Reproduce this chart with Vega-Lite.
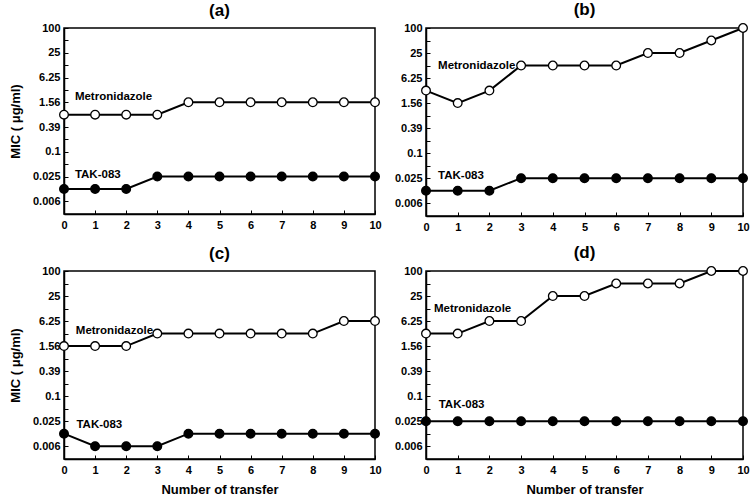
{
  "$schema": "https://vega.github.io/schema/vega-lite/v6.json",
  "background": "white",
  "padding": {"left": 8, "top": 0, "right": 6, "bottom": 2},
  "config": {
    "font": "Liberation Sans",
    "view": {"stroke": "black", "strokeWidth": 1.5},
    "title": {"fontSize": 17, "fontWeight": "bold", "font": "Liberation Sans", "offset": 2, "color": "black"},
    "axis": {
      "labelFont": "Liberation Sans", "labelFontWeight": "bold", "labelFontSize": 11, "labelColor": "black",
      "titleFont": "Liberation Sans", "titleFontWeight": "bold", "titleFontSize": 13, "titleColor": "black",
      "domainColor": "black", "domainWidth": 1.5, "tickColor": "black", "tickWidth": 1, "tickSize": -4,
      "grid": false, "labelPadding": 8, "labelOverlap": false, "labelFlush": false
    },
    "axisX": {"labelPadding": 9, "labelOverlap": false, "tickCount": 30},
    "text": {"font": "Liberation Sans", "fontSize": 11.5, "fontWeight": "bold", "align": "left", "baseline": "middle", "color": "black"},
    "concat": {"spacing": 10}
  },
  "datasets": {
    "mic": [
      {"panel": "a", "drug": "Metronidazole", "transfer": 0, "mic": 0.78125},
      {"panel": "a", "drug": "Metronidazole", "transfer": 1, "mic": 0.78125},
      {"panel": "a", "drug": "Metronidazole", "transfer": 2, "mic": 0.78125},
      {"panel": "a", "drug": "Metronidazole", "transfer": 3, "mic": 0.78125},
      {"panel": "a", "drug": "Metronidazole", "transfer": 4, "mic": 1.5625},
      {"panel": "a", "drug": "Metronidazole", "transfer": 5, "mic": 1.5625},
      {"panel": "a", "drug": "Metronidazole", "transfer": 6, "mic": 1.5625},
      {"panel": "a", "drug": "Metronidazole", "transfer": 7, "mic": 1.5625},
      {"panel": "a", "drug": "Metronidazole", "transfer": 8, "mic": 1.5625},
      {"panel": "a", "drug": "Metronidazole", "transfer": 9, "mic": 1.5625},
      {"panel": "a", "drug": "Metronidazole", "transfer": 10, "mic": 1.5625},
      {"panel": "a", "drug": "TAK-083", "transfer": 0, "mic": 0.01220703125},
      {"panel": "a", "drug": "TAK-083", "transfer": 1, "mic": 0.01220703125},
      {"panel": "a", "drug": "TAK-083", "transfer": 2, "mic": 0.01220703125},
      {"panel": "a", "drug": "TAK-083", "transfer": 3, "mic": 0.0244140625},
      {"panel": "a", "drug": "TAK-083", "transfer": 4, "mic": 0.0244140625},
      {"panel": "a", "drug": "TAK-083", "transfer": 5, "mic": 0.0244140625},
      {"panel": "a", "drug": "TAK-083", "transfer": 6, "mic": 0.0244140625},
      {"panel": "a", "drug": "TAK-083", "transfer": 7, "mic": 0.0244140625},
      {"panel": "a", "drug": "TAK-083", "transfer": 8, "mic": 0.0244140625},
      {"panel": "a", "drug": "TAK-083", "transfer": 9, "mic": 0.0244140625},
      {"panel": "a", "drug": "TAK-083", "transfer": 10, "mic": 0.0244140625},
      {"panel": "b", "drug": "Metronidazole", "transfer": 0, "mic": 3.125},
      {"panel": "b", "drug": "Metronidazole", "transfer": 1, "mic": 1.5625},
      {"panel": "b", "drug": "Metronidazole", "transfer": 2, "mic": 3.125},
      {"panel": "b", "drug": "Metronidazole", "transfer": 3, "mic": 12.5},
      {"panel": "b", "drug": "Metronidazole", "transfer": 4, "mic": 12.5},
      {"panel": "b", "drug": "Metronidazole", "transfer": 5, "mic": 12.5},
      {"panel": "b", "drug": "Metronidazole", "transfer": 6, "mic": 12.5},
      {"panel": "b", "drug": "Metronidazole", "transfer": 7, "mic": 25},
      {"panel": "b", "drug": "Metronidazole", "transfer": 8, "mic": 25},
      {"panel": "b", "drug": "Metronidazole", "transfer": 9, "mic": 50},
      {"panel": "b", "drug": "Metronidazole", "transfer": 10, "mic": 100},
      {"panel": "b", "drug": "TAK-083", "transfer": 0, "mic": 0.01220703125},
      {"panel": "b", "drug": "TAK-083", "transfer": 1, "mic": 0.01220703125},
      {"panel": "b", "drug": "TAK-083", "transfer": 2, "mic": 0.01220703125},
      {"panel": "b", "drug": "TAK-083", "transfer": 3, "mic": 0.0244140625},
      {"panel": "b", "drug": "TAK-083", "transfer": 4, "mic": 0.0244140625},
      {"panel": "b", "drug": "TAK-083", "transfer": 5, "mic": 0.0244140625},
      {"panel": "b", "drug": "TAK-083", "transfer": 6, "mic": 0.0244140625},
      {"panel": "b", "drug": "TAK-083", "transfer": 7, "mic": 0.0244140625},
      {"panel": "b", "drug": "TAK-083", "transfer": 8, "mic": 0.0244140625},
      {"panel": "b", "drug": "TAK-083", "transfer": 9, "mic": 0.0244140625},
      {"panel": "b", "drug": "TAK-083", "transfer": 10, "mic": 0.0244140625},
      {"panel": "c", "drug": "Metronidazole", "transfer": 0, "mic": 1.5625},
      {"panel": "c", "drug": "Metronidazole", "transfer": 1, "mic": 1.5625},
      {"panel": "c", "drug": "Metronidazole", "transfer": 2, "mic": 1.5625},
      {"panel": "c", "drug": "Metronidazole", "transfer": 3, "mic": 3.125},
      {"panel": "c", "drug": "Metronidazole", "transfer": 4, "mic": 3.125},
      {"panel": "c", "drug": "Metronidazole", "transfer": 5, "mic": 3.125},
      {"panel": "c", "drug": "Metronidazole", "transfer": 6, "mic": 3.125},
      {"panel": "c", "drug": "Metronidazole", "transfer": 7, "mic": 3.125},
      {"panel": "c", "drug": "Metronidazole", "transfer": 8, "mic": 3.125},
      {"panel": "c", "drug": "Metronidazole", "transfer": 9, "mic": 6.25},
      {"panel": "c", "drug": "Metronidazole", "transfer": 10, "mic": 6.25},
      {"panel": "c", "drug": "TAK-083", "transfer": 0, "mic": 0.01220703125},
      {"panel": "c", "drug": "TAK-083", "transfer": 1, "mic": 0.006103515625},
      {"panel": "c", "drug": "TAK-083", "transfer": 2, "mic": 0.006103515625},
      {"panel": "c", "drug": "TAK-083", "transfer": 3, "mic": 0.006103515625},
      {"panel": "c", "drug": "TAK-083", "transfer": 4, "mic": 0.01220703125},
      {"panel": "c", "drug": "TAK-083", "transfer": 5, "mic": 0.01220703125},
      {"panel": "c", "drug": "TAK-083", "transfer": 6, "mic": 0.01220703125},
      {"panel": "c", "drug": "TAK-083", "transfer": 7, "mic": 0.01220703125},
      {"panel": "c", "drug": "TAK-083", "transfer": 8, "mic": 0.01220703125},
      {"panel": "c", "drug": "TAK-083", "transfer": 9, "mic": 0.01220703125},
      {"panel": "c", "drug": "TAK-083", "transfer": 10, "mic": 0.01220703125},
      {"panel": "d", "drug": "Metronidazole", "transfer": 0, "mic": 3.125},
      {"panel": "d", "drug": "Metronidazole", "transfer": 1, "mic": 3.125},
      {"panel": "d", "drug": "Metronidazole", "transfer": 2, "mic": 6.25},
      {"panel": "d", "drug": "Metronidazole", "transfer": 3, "mic": 6.25},
      {"panel": "d", "drug": "Metronidazole", "transfer": 4, "mic": 25},
      {"panel": "d", "drug": "Metronidazole", "transfer": 5, "mic": 25},
      {"panel": "d", "drug": "Metronidazole", "transfer": 6, "mic": 50},
      {"panel": "d", "drug": "Metronidazole", "transfer": 7, "mic": 50},
      {"panel": "d", "drug": "Metronidazole", "transfer": 8, "mic": 50},
      {"panel": "d", "drug": "Metronidazole", "transfer": 9, "mic": 100},
      {"panel": "d", "drug": "Metronidazole", "transfer": 10, "mic": 100},
      {"panel": "d", "drug": "TAK-083", "transfer": 0, "mic": 0.0244140625},
      {"panel": "d", "drug": "TAK-083", "transfer": 1, "mic": 0.0244140625},
      {"panel": "d", "drug": "TAK-083", "transfer": 2, "mic": 0.0244140625},
      {"panel": "d", "drug": "TAK-083", "transfer": 3, "mic": 0.0244140625},
      {"panel": "d", "drug": "TAK-083", "transfer": 4, "mic": 0.0244140625},
      {"panel": "d", "drug": "TAK-083", "transfer": 5, "mic": 0.0244140625},
      {"panel": "d", "drug": "TAK-083", "transfer": 6, "mic": 0.0244140625},
      {"panel": "d", "drug": "TAK-083", "transfer": 7, "mic": 0.0244140625},
      {"panel": "d", "drug": "TAK-083", "transfer": 8, "mic": 0.0244140625},
      {"panel": "d", "drug": "TAK-083", "transfer": 9, "mic": 0.0244140625},
      {"panel": "d", "drug": "TAK-083", "transfer": 10, "mic": 0.0244140625}
    ],
    "labels": [
      {"panel": "a", "drug": "Metronidazole", "lx": 0.35, "ly": 2.1},
      {"panel": "a", "drug": "TAK-083", "lx": 0.35, "ly": 0.026},
      {"panel": "b", "drug": "Metronidazole", "lx": 0.38, "ly": 12.0},
      {"panel": "b", "drug": "TAK-083", "lx": 0.38, "ly": 0.028},
      {"panel": "c", "drug": "Metronidazole", "lx": 0.38, "ly": 3.7},
      {"panel": "c", "drug": "TAK-083", "lx": 0.4, "ly": 0.02},
      {"panel": "d", "drug": "Metronidazole", "lx": 0.25, "ly": 12.5},
      {"panel": "d", "drug": "TAK-083", "lx": 0.4, "ly": 0.06}
    ]
  },
  "vconcat": [
    {
      "hconcat": [
        {
          "title": "(a)",
          "width": 311, "height": 186,
          "layer": [
            {"data": {"name": "mic"}, "transform": [{"filter": "datum.panel == 'a'"}],
             "mark": {"type": "line", "color": "black", "strokeWidth": 2},
             "encoding": {
               "x": {"field": "transfer", "type": "quantitative", "scale": {"domain": [0, 10], "nice": false, "zero": false},
                     "axis": {"values": [0,1,2,3,4,5,6,7,8,9,10], "format": "d", "tickCount": 30, "labelOverlap": false, "title": null}},
               "y": {"field": "mic", "type": "quantitative", "scale": {"type": "log", "domain": [0.003, 100], "nice": false},
                     "axis": {"values": [100,50,25,12.5,6.25,3.125,1.5625,0.78125,0.390625,0.1953125,0.09765625,0.048828125,0.0244140625,0.01220703125,0.006103515625],
                              "labelExpr": "({'100':'100','25':'25','6.25':'6.25','1.5625':'1.56','0.390625':'0.39','0.09765625':'0.1','0.0244140625':'0.025','0.006103515625':'0.006'})[datum.value] || ''",
                              "title": "MIC ( μg/ml)", "titlePadding": 10}},
               "detail": {"field": "drug"}}},
            {"data": {"name": "mic"}, "transform": [{"filter": "datum.panel == 'a'"}],
             "mark": {"type": "point", "filled": true, "size": 75, "stroke": "black", "strokeWidth": 1.3, "opacity": 1},
             "encoding": {
               "x": {"field": "transfer", "type": "quantitative"},
               "y": {"field": "mic", "type": "quantitative"},
               "fill": {"field": "drug", "type": "nominal", "scale": {"domain": ["Metronidazole", "TAK-083"], "range": ["white", "black"]}, "legend": null}}},
            {"data": {"name": "labels"}, "transform": [{"filter": "datum.panel == 'a'"}],
             "mark": {"type": "text"},
             "encoding": {
               "x": {"field": "lx", "type": "quantitative"},
               "y": {"field": "ly", "type": "quantitative"},
               "text": {"field": "drug"}}}
          ]
        },
        {
          "title": "(b)",
          "width": 317, "height": 188,
          "layer": [
            {"data": {"name": "mic"}, "transform": [{"filter": "datum.panel == 'b'"}],
             "mark": {"type": "line", "color": "black", "strokeWidth": 2},
             "encoding": {
               "x": {"field": "transfer", "type": "quantitative", "scale": {"domain": [0, 10], "nice": false, "zero": false},
                     "axis": {"values": [0,1,2,3,4,5,6,7,8,9,10], "format": "d", "tickCount": 30, "labelOverlap": false, "title": null}},
               "y": {"field": "mic", "type": "quantitative", "scale": {"type": "log", "domain": [0.003, 100], "nice": false},
                     "axis": {"values": [100,50,25,12.5,6.25,3.125,1.5625,0.78125,0.390625,0.1953125,0.09765625,0.048828125,0.0244140625,0.01220703125,0.006103515625],
                              "labelExpr": "({'100':'100','25':'25','6.25':'6.25','1.5625':'1.56','0.390625':'0.39','0.09765625':'0.1','0.0244140625':'0.025','0.006103515625':'0.006'})[datum.value] || ''",
                              "title": null}},
               "detail": {"field": "drug"}}},
            {"data": {"name": "mic"}, "transform": [{"filter": "datum.panel == 'b'"}],
             "mark": {"type": "point", "filled": true, "size": 75, "stroke": "black", "strokeWidth": 1.3, "opacity": 1},
             "encoding": {
               "x": {"field": "transfer", "type": "quantitative"},
               "y": {"field": "mic", "type": "quantitative"},
               "fill": {"field": "drug", "type": "nominal", "scale": {"domain": ["Metronidazole", "TAK-083"], "range": ["white", "black"]}, "legend": null}}},
            {"data": {"name": "labels"}, "transform": [{"filter": "datum.panel == 'b'"}],
             "mark": {"type": "text"},
             "encoding": {
               "x": {"field": "lx", "type": "quantitative"},
               "y": {"field": "ly", "type": "quantitative"},
               "text": {"field": "drug"}}}
          ]
        }
      ]
    },
    {
      "hconcat": [
        {
          "title": "(c)",
          "width": 311, "height": 188,
          "layer": [
            {"data": {"name": "mic"}, "transform": [{"filter": "datum.panel == 'c'"}],
             "mark": {"type": "line", "color": "black", "strokeWidth": 2},
             "encoding": {
               "x": {"field": "transfer", "type": "quantitative", "scale": {"domain": [0, 10], "nice": false, "zero": false},
                     "axis": {"values": [0,1,2,3,4,5,6,7,8,9,10], "format": "d", "tickCount": 30, "labelOverlap": false, "title": "Number of transfer", "titlePadding": 8}},
               "y": {"field": "mic", "type": "quantitative", "scale": {"type": "log", "domain": [0.003, 100], "nice": false},
                     "axis": {"values": [100,50,25,12.5,6.25,3.125,1.5625,0.78125,0.390625,0.1953125,0.09765625,0.048828125,0.0244140625,0.01220703125,0.006103515625],
                              "labelExpr": "({'100':'100','25':'25','6.25':'6.25','1.5625':'1.56','0.390625':'0.39','0.09765625':'0.1','0.0244140625':'0.025','0.006103515625':'0.006'})[datum.value] || ''",
                              "title": "MIC ( μg/ml)", "titlePadding": 10}},
               "detail": {"field": "drug"}}},
            {"data": {"name": "mic"}, "transform": [{"filter": "datum.panel == 'c'"}],
             "mark": {"type": "point", "filled": true, "size": 75, "stroke": "black", "strokeWidth": 1.3, "opacity": 1},
             "encoding": {
               "x": {"field": "transfer", "type": "quantitative"},
               "y": {"field": "mic", "type": "quantitative"},
               "fill": {"field": "drug", "type": "nominal", "scale": {"domain": ["Metronidazole", "TAK-083"], "range": ["white", "black"]}, "legend": null}}},
            {"data": {"name": "labels"}, "transform": [{"filter": "datum.panel == 'c'"}],
             "mark": {"type": "text"},
             "encoding": {
               "x": {"field": "lx", "type": "quantitative"},
               "y": {"field": "ly", "type": "quantitative"},
               "text": {"field": "drug"}}}
          ]
        },
        {
          "title": "(d)",
          "width": 317, "height": 188,
          "layer": [
            {"data": {"name": "mic"}, "transform": [{"filter": "datum.panel == 'd'"}],
             "mark": {"type": "line", "color": "black", "strokeWidth": 2},
             "encoding": {
               "x": {"field": "transfer", "type": "quantitative", "scale": {"domain": [0, 10], "nice": false, "zero": false},
                     "axis": {"values": [0,1,2,3,4,5,6,7,8,9,10], "format": "d", "tickCount": 30, "labelOverlap": false, "title": "Number of transfer", "titlePadding": 8}},
               "y": {"field": "mic", "type": "quantitative", "scale": {"type": "log", "domain": [0.003, 100], "nice": false},
                     "axis": {"values": [100,50,25,12.5,6.25,3.125,1.5625,0.78125,0.390625,0.1953125,0.09765625,0.048828125,0.0244140625,0.01220703125,0.006103515625],
                              "labelExpr": "({'100':'100','25':'25','6.25':'6.25','1.5625':'1.56','0.390625':'0.39','0.09765625':'0.1','0.0244140625':'0.025','0.006103515625':'0.006'})[datum.value] || ''",
                              "title": null}},
               "detail": {"field": "drug"}}},
            {"data": {"name": "mic"}, "transform": [{"filter": "datum.panel == 'd'"}],
             "mark": {"type": "point", "filled": true, "size": 75, "stroke": "black", "strokeWidth": 1.3, "opacity": 1},
             "encoding": {
               "x": {"field": "transfer", "type": "quantitative"},
               "y": {"field": "mic", "type": "quantitative"},
               "fill": {"field": "drug", "type": "nominal", "scale": {"domain": ["Metronidazole", "TAK-083"], "range": ["white", "black"]}, "legend": null}}},
            {"data": {"name": "labels"}, "transform": [{"filter": "datum.panel == 'd'"}],
             "mark": {"type": "text"},
             "encoding": {
               "x": {"field": "lx", "type": "quantitative"},
               "y": {"field": "ly", "type": "quantitative"},
               "text": {"field": "drug"}}}
          ]
        }
      ]
    }
  ]
}
